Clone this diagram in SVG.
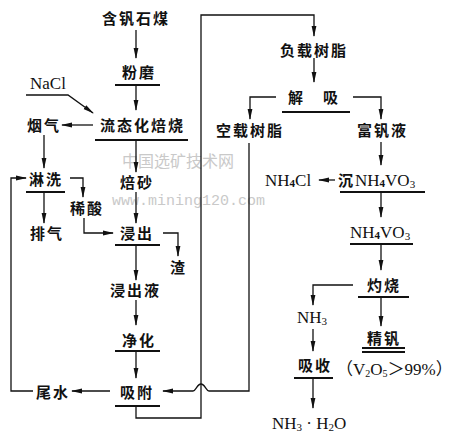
<svg xmlns="http://www.w3.org/2000/svg" width="452" height="438" viewBox="0 0 452 438">
<defs>
<marker id="ah" markerWidth="11" markerHeight="6" refX="10" refY="3" orient="auto" markerUnits="userSpaceOnUse">
<path d="M0,0.6 L11,3 L0,5.4 Z" fill="#111"/>
</marker>
<style>
.cn{font-family:"Noto Sans CJK SC","Noto Sans CJK JP",sans-serif;font-size:15px;font-weight:bold;letter-spacing:2px;fill:#111}
.lt{font-family:"Liberation Serif","Noto Sans CJK SC",serif;font-size:17px;fill:#111}
.wm{font-family:"Noto Sans CJK SC",sans-serif;font-size:16px;fill:#c9c9c9}
.wm2{font-family:"Liberation Mono",monospace;font-size:15px;fill:#c9c9c9}
.c{fill:none;stroke:#111;stroke-width:1.3}
.ca{fill:none;stroke:#111;stroke-width:1.3;marker-end:url(#ah)}
.ul{stroke:#111;stroke-width:1.8}
</style>
</defs>
<rect width="452" height="438" fill="#fff"/>
<g id="watermark">
<text class="wm" x="122" y="167">中国选矿技术网</text>
<text class="wm2" x="112" y="205">www.mining120.com</text>
</g>
<g id="connectors">
<path class="ca" d="M136,30 V58"/>
<path class="ca" d="M136,85 V110"/>
<path class="ca" d="M26,95 H68 L93,113"/>
<path class="ca" d="M93,125 H62"/>
<path class="ca" d="M44,135 V168"/>
<path class="ca" d="M44,192 V223"/>
<path class="ca" d="M70,178 H83 V197"/>
<path class="ca" d="M84,218 V233 H113"/>
<path class="ca" d="M136,140 V172"/>
<path class="ca" d="M136,192 V223"/>
<path class="ca" d="M163,233 H178 V256"/>
<path class="ca" d="M136,245 V280"/>
<path class="ca" d="M136,300 V325"/>
<path class="ca" d="M136,351 V378"/>
<path class="ca" d="M110,391 H72"/>
<path class="ca" d="M33,391 H11 V178 H26"/>
<path class="ca" d="M136,406 V418 H201 V15 H314 V36"/>
<path class="ca" d="M314,58 V82"/>
<path class="ca" d="M276,97 H250 V119"/>
<path class="ca" d="M353,97 H381 V119"/>
<path class="ca" d="M249,143 V391 H209 C206,391 205,384 201,384 C197,384 196,391 193,391 H163"/>
<path class="ca" d="M381,142 V165"/>
<path class="ca" d="M335,180 H319"/>
<path class="ca" d="M381,192 V217"/>
<path class="ca" d="M381,244 V270"/>
<path class="ca" d="M381,297 V326"/>
<path class="ca" d="M353,285 H313 V305"/>
<path class="ca" d="M313,329 V351"/>
<path class="ca" d="M313,378 V408"/>
</g>
<g id="n-hanfanshimei"><text class="cn" x="102" y="24">含钒石煤</text></g>
<g id="n-fenmo"><text class="cn" x="122" y="78">粉磨</text><line class="ul" x1="115" y1="85" x2="160" y2="85"/></g>
<g id="n-nacl"><text class="lt" x="30" y="89">NaCl</text></g>
<g id="n-liutai"><text class="cn" x="100" y="131">流态化焙烧</text><line class="ul" x1="95" y1="140" x2="188" y2="140"/></g>
<g id="n-yanqi"><text class="cn" x="27" y="131">烟气</text></g>
<g id="n-linxi"><text class="cn" x="29" y="185">淋洗</text><line class="ul" x1="26" y1="192" x2="65" y2="192"/></g>
<g id="n-paiqi"><text class="cn" x="30" y="239">排气</text></g>
<g id="n-xisuan"><text class="cn" x="70" y="214">稀酸</text></g>
<g id="n-beisha"><text class="cn" x="120" y="188">焙砂</text></g>
<g id="n-jinchu"><text class="cn" x="120" y="239">浸出</text><line class="ul" x1="115" y1="245" x2="160" y2="245"/></g>
<g id="n-zha"><text class="cn" x="170" y="273">渣</text></g>
<g id="n-jinchuye"><text class="cn" x="110" y="296">浸出液</text></g>
<g id="n-jinghua"><text class="cn" x="122" y="346">净化</text><line class="ul" x1="115" y1="351" x2="160" y2="351"/></g>
<g id="n-xifu"><text class="cn" x="120" y="398">吸附</text><line class="ul" x1="115" y1="406" x2="160" y2="406"/></g>
<g id="n-weishui"><text class="cn" x="36" y="398">尾水</text></g>
<g id="n-fuzai"><text class="cn" x="280" y="56">负载树脂</text></g>
<g id="n-jiexi"><text class="cn" x="288" y="103">解</text><text class="cn" x="323" y="103">吸</text><line class="ul" x1="282" y1="112" x2="350" y2="112"/></g>
<g id="n-kongzai"><text class="cn" x="216" y="136">空载树脂</text></g>
<g id="n-fufanye"><text class="cn" x="357" y="136">富钒液</text></g>
<g id="n-nh4cl"><text class="lt" x="265" y="186">NH<tspan font-size="11" font-weight="bold" dy="1">4</tspan><tspan dy="-1">Cl</tspan></text></g>
<g id="n-chen"><text class="cn" x="338" y="186">沉</text><text class="lt" x="355" y="186" font-size="18">NH<tspan font-size="11" font-weight="bold" dy="1">4</tspan><tspan dy="-1">VO</tspan><tspan font-size="11" dy="2">3</tspan></text><line class="ul" x1="340" y1="192" x2="425" y2="192"/></g>
<g id="n-nh4vo3"><text class="lt" x="350" y="238" font-size="18">NH<tspan font-size="11" font-weight="bold" dy="1">4</tspan><tspan dy="-1">VO</tspan><tspan font-size="11" dy="2">3</tspan></text><line class="ul" x1="350" y1="244" x2="413" y2="244"/></g>
<g id="n-zhuoshao"><text class="cn" x="367" y="291">灼烧</text><line class="ul" x1="358" y1="297" x2="409" y2="297"/></g>
<g id="n-nh3"><text class="lt" x="297" y="323" font-size="18">NH<tspan font-size="11" dy="2">3</tspan></text></g>
<g id="n-xishou"><text class="cn" x="298" y="371">吸收</text><line class="ul" x1="294" y1="378" x2="333" y2="378"/></g>
<g id="n-nh3h2o"><text class="lt" x="272" y="429">NH<tspan font-size="11" dy="2">3</tspan><tspan dy="-2"> · H</tspan><tspan font-size="11" dy="2">2</tspan><tspan dy="-2">O</tspan></text></g>
<g id="n-jingfan"><text class="cn" x="367" y="344">精钒</text><line class="ul" x1="362" y1="348" x2="405" y2="348" stroke-width="1.4"/><line class="ul" x1="362" y1="352" x2="405" y2="352" stroke-width="1.4"/></g>
<g id="n-purity"><text class="lt" x="336" y="375" font-size="15">（V<tspan font-size="10" dy="2">2</tspan><tspan dy="-2">O</tspan><tspan font-size="10" dy="2">5</tspan><tspan dy="-2">＞99%）</tspan></text></g>
</svg>
